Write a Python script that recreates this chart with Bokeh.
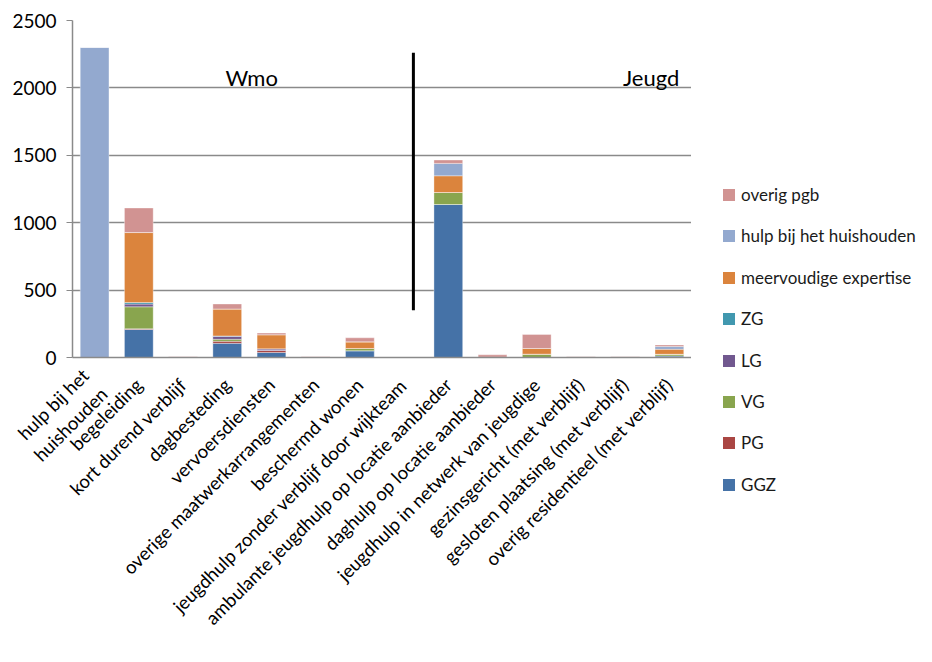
from bokeh.plotting import figure
from bokeh.layouts import row
from bokeh.models import Range1d, FixedTicker, Label, ColumnDataSource, Div
from bokeh.embed import file_html
from bokeh.resources import INLINE

categories = ["hulp bij het huishouden", "begeleiding", "kort durend verblijf", "dagbesteding",
              "vervoersdiensten", "overige maatwerkarrangementen", "beschermd wonen",
              "jeugdhulp zonder verblijf door wijkteam", "ambulante jeugdhulp op locatie aanbieder",
              "daghulp op locatie aanbieder", "jeugdhulp in netwerk van jeugdige",
              "gezinsgericht (met verblijf)", "gesloten plaatsing (met verblijf)",
              "overig residentieel (met verblijf)"]

series_names = ["GGZ", "PG", "VG", "LG", "ZG", "meervoudige expertise", "hulp bij het huishouden", "overig pgb"]
GGZ = [0, 208, 0, 105, 37, 0, 50, 0, 1135, 0, 0, 0, 0, 12]
PG = [0, 5, 0, 15, 15, 0, 0, 0, 0, 0, 0, 0, 0, 0]
VG = [0, 163, 0, 15, 0, 0, 17, 0, 89, 0, 25, 0, 0, 12]
LG = [0, 20, 0, 22, 12, 0, 0, 0, 0, 0, 0, 0, 0, 0]
ZG = [0, 12, 0, 3, 0, 0, 0, 0, 0, 0, 0, 0, 0, 0]
meervoudige = [0, 519, 3, 200, 105, 3, 49, 0, 124, 2, 42, 2, 2, 37]
hulp = [2300, 0, 0, 0, 0, 0, 0, 0, 92, 0, 0, 0, 0, 20]
overig_pgb = [0, 182, 3, 37, 12, 3, 30, 0, 25, 18, 104, 3, 3, 12]
colors = ["#4572A7", "#AA4643", "#89A54E", "#71588F", "#4198AF", "#DB843D", "#93A9CF", "#D19392"]

y_ticks = [0, 500, 1000, 1500, 2000, 2500]

# divider between Wmo and Jeugd (category-index x, value range)
divider_x = 7.21
divider_y = (350, 2260)
wmo_pos = (2.96, 2078)
jeugd_pos = (11.95, 2078)

FONT = "Lato"
LABEL_SIZE = "18.5px"
ANGLE = 0.785

keys = ["s%d" % i for i in range(len(series_names))]
data = {"idx": list(range(len(categories)))}
for k, vals in zip(keys, [GGZ, PG, VG, LG, ZG, meervoudige, hulp, overig_pgb]):
    data[k] = vals
source = ColumnDataSource(data)

p = figure(x_range=Range1d(-0.5, len(categories) - 0.5), y_range=Range1d(0, 2500),
           width=691, height=662, output_backend="svg", toolbar_location=None,
           min_border_left=72, min_border_top=20, min_border_right=0, min_border_bottom=305)
p.outline_line_color = None
p.background_fill_color = "white"

p.vbar_stack(keys, x="idx", width=0.65, source=source, color=colors,
             line_color="white", line_alpha=0.35, line_width=1)

p.segment(x0=[divider_x], y0=[divider_y[0]], x1=[divider_x], y1=[divider_y[1]],
          line_color="black", line_width=3)

for txt, (lx, ly) in (("Wmo", wmo_pos), ("Jeugd", jeugd_pos)):
    p.add_layout(Label(x=lx, y=ly, text=txt, text_font=FONT, text_font_size="22px",
                       text_color="black", text_baseline="middle"))

p.xgrid.grid_line_color = None
p.ygrid.grid_line_color = "#8a8a8a"
p.ygrid.grid_line_width = 1.5
p.yaxis.ticker = FixedTicker(ticks=y_ticks)
p.yaxis.axis_line_color = "#8a8a8a"
p.yaxis.axis_line_width = 1.5
p.yaxis.major_tick_line_color = "#8a8a8a"
p.yaxis.major_tick_out = 6
p.yaxis.major_tick_in = 0
p.yaxis.minor_tick_line_color = None
p.yaxis.major_label_text_font = FONT
p.yaxis.major_label_text_font_size = "19px"
p.yaxis.major_label_text_color = "black"
p.yaxis.major_label_standoff = 10

tick_labels = {i: c for i, c in enumerate(categories)}
# the first label would run past the left edge of the page: wrap it onto two lines
tick_labels[0] = "hulp bij het\nhuishouden"

p.xaxis.ticker = FixedTicker(ticks=list(range(len(categories))))
p.xaxis.major_label_overrides = tick_labels
p.xaxis.axis_line_color = "#8a8a8a"
p.xaxis.axis_line_width = 1.5
p.xaxis.major_tick_line_color = None
p.xaxis.minor_tick_line_color = None
p.xaxis.major_tick_out = 0
p.xaxis.major_tick_in = 0
p.xaxis.major_label_orientation = ANGLE
p.xaxis.major_label_text_font = FONT
p.xaxis.major_label_text_font_size = LABEL_SIZE
p.xaxis.major_label_text_color = "black"
p.xaxis.major_label_standoff = 24

# legend, drawn to the right of the plot (top entry = last series)
ROW0, ROW_STEP, SWATCH = 195, 41.4, 12
parts = []
for i, (name, col) in enumerate(reversed(list(zip(series_names, colors)))):
    cy = ROW0 + i * ROW_STEP
    parts.append(
        f'<div style="position:absolute;left:32px;top:{cy - SWATCH / 2:.1f}px;width:{SWATCH}px;'
        f'height:{SWATCH}px;background:{col};"></div>'
        f'<div style="position:absolute;left:50px;top:{cy - 11:.1f}px;height:22px;line-height:22px;'
        f'white-space:nowrap;">{name}</div>')
legend_html = (f'<div style="position:relative;width:241px;height:662px;font-family:{FONT};'
               f'font-size:17px;color:#1a1a1a;">' + "".join(parts) + '</div>')
legend_div = Div(text=legend_html, width=241, height=662, margin=0)

layout = row(p, legend_div)
open("out.html", "w").write(file_html(layout, INLINE))
